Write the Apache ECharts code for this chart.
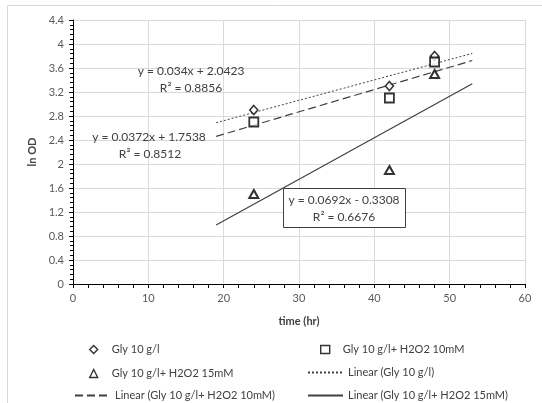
<!DOCTYPE html>
<html>
<head>
<meta charset="utf-8">
<script src="https://cdn.jsdelivr.net/npm/echarts@6/dist/echarts.min.js"></script>
<style>
  html, body { margin: 0; padding: 0; background: #fff; }
  #chart { width: 542px; height: 403px; }
</style>
</head>
<body>
<div id="chart"></div>
<script>
// time (hr)
const times = [24, 42, 48]
// ln OD values per condition
const gly = [2.9, 3.3, 3.8]
const gly10mM = [2.7, 3.1, 3.7]
const gly15mM = [1.5, 1.9, 3.5]
const seriesNames = ['Gly 10 g/l', 'Gly 10 g/l+ H2O2 10mM', 'Gly 10 g/l+ H2O2 15mM']
// trendline forecast range (5 hr backward / forward)
const trendFrom = 19
const trendTo = 53
const yTicks = ['0', '0.4', '0.8', '1.2', '1.6', '2', '2.4', '2.8', '3.2', '3.6', '4', '4.4']

const font = 'Lato, "Open Sans", sans-serif'
const dark = '#404040'

// least squares fit, returns endpoints of the trendline
function trend (xs, ys) {
  const n = xs.length
  const mx = xs.reduce((a, b) => a + b, 0) / n
  const my = ys.reduce((a, b) => a + b, 0) / n
  let sxy = 0, sxx = 0
  xs.forEach((x, i) => {
    sxy += (x - mx) * (ys[i] - my)
    sxx += (x - mx) * (x - mx)
  })
  const k = sxy / sxx
  const b = my - k * mx
  return [[trendFrom, k * trendFrom + b], [trendTo, k * trendTo + b]]
}

function pts (ys) {
  return times.map((t, i) => [t, ys[i]])
}

const chart = echarts.init(document.getElementById('chart'))

function markerLegend (name, left, top, w, pad) {
  return {
    data: [name], left: left, top: top, itemWidth: w, itemHeight: 8,
    itemStyle: { borderWidth: 1.4 },
    textStyle: { fontFamily: font, fontSize: 11, color: dark, padding: [0, 0, 0, pad] }
  }
}
function lineLegend (name, left, top, w, pad) {
  return {
    data: [name], left: left, top: top, itemWidth: w, itemHeight: 10,
    itemStyle: { opacity: 0 }, // hide the symbol, keep the line
    textStyle: { fontFamily: font, fontSize: 11, color: dark, padding: [0, 0, 0, pad] }
  }
}

function label (text, x, y) {
  return {
    type: 'text', z: 100, silent: true,
    style: { text: text, x: x, y: y, textAlign: 'center', textVerticalAlign: 'middle', font: '12px ' + font, fill: dark }
  }
}

const option = {
  animation: false,
  grid: { left: 73, right: 17, top: 20, bottom: 119 },
  xAxis: {
    type: 'value', min: 0, max: 60, interval: 10,
    name: 'time (hr)', nameLocation: 'middle', nameGap: 32,
    nameTextStyle: { fontFamily: font, fontSize: 11, fontWeight: 'bold', color: dark },
    axisLine: { lineStyle: { color: '#000', width: 1 } },
    axisTick: { show: true, length: 4, lineStyle: { color: '#000' } },
    minorTick: { show: true, splitNumber: 5, length: 4, lineStyle: { color: '#000' } },
    axisLabel: { fontFamily: font, fontSize: 11, color: '#595959', margin: 9 },
    splitLine: { show: true, lineStyle: { color: '#d9d9d9' } }
  },
  yAxis: {
    type: 'value', min: 0, max: 4.4, interval: 0.4,
    name: 'ln OD', nameLocation: 'middle', nameGap: 33, nameRotate: 90,
    nameTextStyle: { fontFamily: font, fontSize: 11, fontWeight: 'bold', color: dark },
    axisLine: { show: true, lineStyle: { color: '#000', width: 1 } },
    axisTick: { show: true, length: 4, lineStyle: { color: '#000' } },
    minorTick: { show: true, splitNumber: 5, length: 3, lineStyle: { color: '#000' } },
    axisLabel: {
      fontFamily: font, fontSize: 11, color: '#595959', margin: 9,
      formatter: (v) => yTicks[Math.round(v / 0.4)]
    },
    splitLine: { show: true, lineStyle: { color: '#d9d9d9' } }
  },
  legend: [
    markerLegend(seriesNames[0], 84, 339, 8, 9),
    markerLegend(seriesNames[1], 315, 339, 9, 8),
    markerLegend(seriesNames[2], 84, 363, 8, 9),
    lineLegend('Linear (Gly 10 g/l)', 302, 362, 35, 0),
    lineLegend('Linear (Gly 10 g/l+ H2O2 10mM)', 69, 385, 35, 0),
    lineLegend('Linear (Gly 10 g/l+ H2O2 15mM)', 302, 385, 35, 0)
  ],
  graphic: [
    {
      type: 'rect', z: -10, silent: true,
      shape: { x: 7.5, y: 5.5, width: 700, height: 600 },
      style: { fill: 'none', stroke: '#d9d9d9', lineWidth: 1 }
    },
    label('y = 0.034x + 2.0423', 191, 71),
    label('R² = 0.8856', 191, 88),
    label('y = 0.0372x + 1.7538', 149, 137),
    label('R² = 0.8512', 150, 154),
    {
      type: 'rect', z: 99, silent: true,
      shape: { x: 283.5, y: 188.5, width: 122, height: 39 },
      style: { fill: '#fff', stroke: dark, lineWidth: 1 }
    },
    label('y = 0.0692x - 0.3308', 344, 200),
    label('R² = 0.6676', 344, 217)
  ],
  series: [
    {
      name: 'Linear (Gly 10 g/l)', type: 'line', data: trend(times, gly),
      symbol: 'none', lineStyle: { color: dark, width: 1, type: [2, 2] }, itemStyle: { color: dark }
    },
    {
      name: 'Linear (Gly 10 g/l+ H2O2 10mM)', type: 'line', data: trend(times, gly10mM),
      symbol: 'none', lineStyle: { color: dark, width: 1.2, type: [8, 4] }, itemStyle: { color: dark }
    },
    {
      name: 'Linear (Gly 10 g/l+ H2O2 15mM)', type: 'line', data: trend(times, gly15mM),
      symbol: 'none', lineStyle: { color: dark, width: 1.2, type: 'solid' }, itemStyle: { color: dark }
    },
    {
      name: seriesNames[0], type: 'scatter', data: pts(gly), symbol: 'diamond', symbolSize: [8, 9],
      itemStyle: { color: '#fff', borderColor: '#000', borderWidth: 1.6 }, z: 5
    },
    {
      name: seriesNames[1], type: 'scatter', data: pts(gly10mM), symbol: 'rect', symbolSize: 9,
      itemStyle: { color: '#fff', borderColor: '#000', borderWidth: 1.8 }, z: 5
    },
    {
      name: seriesNames[2], type: 'scatter', data: pts(gly15mM), symbol: 'triangle', symbolSize: [9, 8],
      itemStyle: { color: '#fff', borderColor: '#000', borderWidth: 2 }, z: 5
    }
  ]
}

chart.setOption(option)
window.addEventListener('resize', function () {
  chart.resize()
})
</script>
</body>
</html>
